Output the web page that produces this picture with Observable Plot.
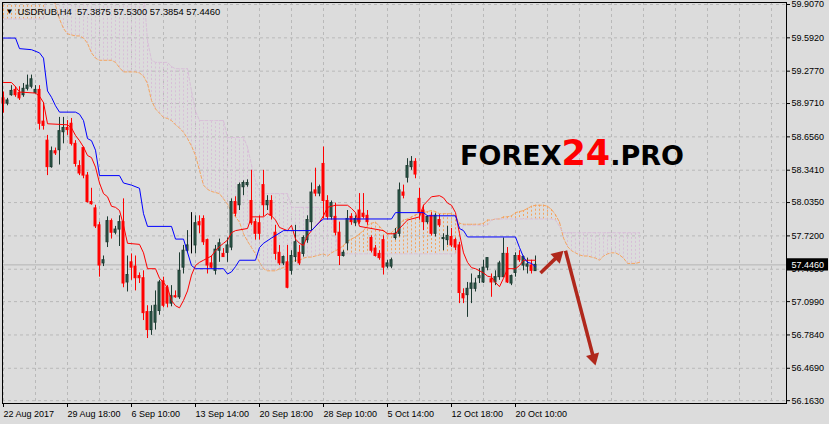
<!DOCTYPE html>
<html><head><meta charset="utf-8">
<script src="https://cdn.jsdelivr.net/npm/d3@7"></script>
<script src="https://cdn.jsdelivr.net/npm/@observablehq/plot@0.6"></script>
<style>
html,body{margin:0;padding:0;background:#dcdcdc;}
#chart{width:829px;height:424px;}
</style></head><body><div id="chart"></div>
<script>
// ---------- data ----------
const symbolName = "USDRUB,H4";
const xTickBars = [0,16,32,48,64,80,96,112,128];
const xTickLabels = ["22 Aug 2017","29 Aug 18:00","6 Sep 10:00","13 Sep 14:00","20 Sep 18:00","28 Sep 10:00","5 Oct 14:00","12 Oct 18:00","20 Oct 10:00"];
const yTicks = [59.907,59.592,59.277,58.971,58.656,58.341,58.035,57.720,57.405,57.099,56.784,56.469,56.163];

const candleOpen = [59.02,58.97,59.05,59.10,59.07,59.05,59.11,59.13,59.07,59.10,
58.80,58.62,58.37,58.52,58.53,58.70,58.74,58.78,58.59,58.38,
58.55,58.29,58.04,57.98,57.82,57.46,57.66,57.86,57.75,57.78,
57.85,57.28,57.47,57.43,57.34,57.32,57.00,56.83,56.90,57.01,
57.29,57.23,57.08,57.15,57.14,57.42,57.58,57.65,57.63,57.85,
57.88,57.68,57.46,57.39,57.58,57.55,57.56,57.61,58.04,58.01,
58.18,58.20,58.05,57.85,57.84,58.20,58.01,58.05,57.75,57.56,
57.46,57.47,57.39,57.52,57.56,57.55,57.68,57.85,58.15,58.12,
58.40,58.05,57.90,57.90,57.75,57.53,57.65,57.90,57.84,57.96,
57.93,57.91,57.70,57.60,57.55,57.68,57.43,57.43,57.70,57.74,
58.13,58.27,58.37,58.42,58.07,57.96,57.85,57.91,57.74,57.87,
57.69,57.68,57.71,57.68,57.63,57.17,57.16,57.22,57.22,57.32,
57.28,57.42,57.31,57.28,57.33,57.33,57.55,57.27,57.37,57.53,
57.44,57.43,57.44,57.3875];
const candleHigh = [59.08,59.02,59.14,59.13,59.13,59.16,59.24,59.24,59.14,59.14,
58.98,58.67,58.56,58.55,58.84,58.84,58.81,58.83,58.62,58.43,
58.56,58.32,58.17,58.01,57.85,57.53,57.90,57.88,57.81,57.91,
58.07,57.53,57.55,57.53,57.37,57.39,57.06,57.06,57.20,57.30,
57.33,57.25,57.25,57.20,57.56,57.63,57.77,57.94,57.91,57.91,
57.91,57.69,57.53,57.63,57.69,57.60,57.70,58.07,58.09,58.22,
58.24,58.25,58.34,57.88,57.91,58.34,58.10,58.10,57.82,57.63,
57.53,57.63,57.58,57.82,57.63,57.72,57.91,58.22,58.36,58.20,
58.56,58.10,58.05,58.03,57.85,57.58,57.96,57.93,57.91,58.12,
58.12,57.96,57.72,57.63,57.58,57.72,57.49,57.51,57.79,58.22,
58.20,58.45,58.47,58.45,58.17,58.01,57.91,57.94,57.93,57.92,
57.74,57.81,57.79,57.70,57.66,57.22,57.28,57.36,57.32,57.41,
57.49,57.51,57.36,57.39,57.48,57.70,57.61,57.35,57.56,57.58,
57.53,57.51,57.49,57.5300];
const candleLow = [58.88,58.95,59.04,59.03,59.00,59.03,59.09,59.11,59.06,58.72,
58.72,58.29,58.36,58.48,58.39,58.59,58.67,58.57,58.37,58.29,
58.26,58.03,58.01,57.79,57.33,57.43,57.61,57.69,57.73,57.62,
57.23,57.19,57.30,57.20,57.27,56.92,56.75,56.78,56.83,56.97,
57.04,57.04,57.05,57.13,57.12,57.36,57.56,57.55,57.55,57.74,
57.63,57.36,57.41,57.35,57.47,57.52,57.47,57.58,57.90,57.96,
58.10,58.18,57.82,57.68,57.68,57.90,57.96,57.87,57.49,57.44,
57.44,57.22,57.35,57.47,57.44,57.52,57.65,57.77,58.09,58.09,
57.88,57.87,57.87,57.72,57.44,57.52,57.58,57.82,57.81,57.83,
57.88,57.82,57.56,57.52,57.49,57.35,57.41,57.41,57.68,57.71,
58.07,58.22,58.34,58.26,57.87,57.77,57.83,57.72,57.71,57.80,
57.58,57.63,57.61,57.58,57.08,57.08,56.95,57.08,57.19,57.27,
57.27,57.39,57.14,57.25,57.30,57.33,57.27,57.25,57.33,57.47,
57.39,57.36,57.36,57.3854];
const candleClose = [58.97,59.00,59.09,59.05,59.02,59.11,59.14,59.20,59.10,58.78,
58.76,58.37,58.52,58.50,58.71,58.74,58.72,58.59,58.40,58.31,
58.29,58.04,58.02,57.81,57.44,57.49,57.86,57.75,57.78,57.85,
57.27,57.35,57.42,57.32,57.32,56.99,56.83,57.00,57.06,57.28,
57.06,57.08,57.15,57.14,57.39,57.58,57.63,57.65,57.84,57.82,
57.66,57.44,57.42,57.59,57.65,57.52,57.63,58.04,57.93,58.20,
58.22,58.22,57.84,57.74,57.74,58.01,58.05,57.91,57.55,57.46,
57.52,57.23,57.53,57.66,57.46,57.70,57.87,58.13,58.12,58.18,
58.05,57.90,58.03,57.75,57.53,57.56,57.88,57.85,57.88,57.85,
57.90,57.85,57.58,57.53,57.51,57.42,57.46,57.49,57.74,58.15,
58.10,58.38,58.42,58.30,57.94,57.85,57.90,57.74,57.91,57.82,
57.70,57.72,57.63,57.61,57.18,57.13,57.22,57.27,57.27,57.34,
57.42,57.51,57.28,57.33,57.46,57.55,57.28,57.34,57.53,57.49,
57.52,57.45,57.39,57.4460];

// Tenkan-sen (red) and Kijun-sen (blue): bar index / value
const tenkanBars = [0,2,3,4,8,9,10,11,16,17,18,19,20,21,22,23,24,25,26,27,28,29,30,31,34,35,36,38,39,40,41,42,43,44,45,46,47,48,49,50,51,52,53,54,55,56,57,58,61,62,65,66,67,68,69,71,72,73,74,75,76,77,78,79,80,81,83,86,87,88,89,95,96,98,99,100,101,104,105,106,107,109,110,111,112,113,114,115,116,117,118,119,120,121,122,123,124,125,126,128,129,130,133];
const tenkanVals = [59.17,59.17,59.13,59.08,59.07,59.04,58.98,58.78,
58.77,58.74,58.67,58.62,58.56,58.48,58.46,58.37,58.22,58.12,58.09,58.00,57.99,57.96,57.82,57.65,
57.64,57.56,57.41,57.41,
57.32,57.28,57.23,57.11,57.06,57.04,57.11,57.20,57.35,57.44,57.47,57.49,57.51,57.53,57.58,57.62,57.65,57.68,57.75,57.77,
57.79,57.90,
57.90,57.93,57.91,57.87,57.80,
57.77,57.82,57.69,57.65,57.63,57.72,57.77,57.81,57.85,57.91,57.99,
58.01,58.01,57.98,57.94,57.81,
57.77,57.74,57.74,57.79,57.83,57.87,
57.90,58.01,58.05,58.09,
58.10,58.08,58.03,58.01,57.94,57.74,57.56,57.47,57.42,57.41,57.39,57.37,57.34,57.33,57.28,57.24,57.32,57.41,
57.41,57.44,57.49,57.49];
const kijunBars = [0,3,4,7,9,10,11,12,13,14,18,19,20,21,22,23,24,29,30,32,34,35,36,42,43,45,47,48,55,56,57,58,59,63,64,65,67,70,77,79,80,97,98,105,106,113,114,115,116,128,129,130,131,132,133];
const kijunVals = [59.59,59.59,59.49,59.48,59.45,59.40,59.09,59.03,58.95,58.89,
58.89,58.87,58.81,58.64,58.62,58.53,58.29,
58.29,58.22,58.20,58.17,57.93,57.81,
57.81,57.69,57.69,57.44,57.41,
57.41,57.36,57.38,57.43,57.49,
57.49,57.61,57.65,57.70,57.77,
57.77,57.85,57.88,
57.88,57.94,57.94,57.91,57.91,57.79,57.77,57.71,
57.71,57.61,57.52,57.47,57.46,57.43];

// Senkou span A / B, one value per bar (bars 0..159, 26 bars ahead of the last candle)
const spanA = [60.05,60.05,60.05,60.05,60.05,60.05,60.05,60.05,60.05,60.05,
60.05,60.05,60.05,59.90,59.77,59.68,59.63,59.62,59.61,59.61,
59.59,59.54,59.45,59.40,59.38,59.38,59.38,59.38,59.36,59.31,
59.27,59.27,59.27,59.27,59.26,59.23,59.16,59.00,58.92,58.88,
58.84,58.83,58.81,58.77,58.74,58.70,58.64,58.57,58.48,58.34,
58.20,58.16,58.14,58.13,58.12,58.07,58.02,57.95,57.90,57.85,
57.74,57.67,57.61,57.55,57.47,57.41,57.39,57.39,57.39,57.41,
57.42,57.44,57.47,57.49,57.49,57.51,57.52,57.52,57.53,57.54,
57.55,57.53,57.56,57.58,57.60,57.63,57.67,57.69,57.71,57.74,
57.77,57.82,57.84,57.85,57.81,57.77,57.74,57.75,57.79,57.83,
57.87,57.88,57.90,57.92,57.93,57.94,57.95,57.96,57.95,57.93,
57.93,57.93,57.93,57.91,57.84,57.83,57.83,57.83,57.83,57.83,
57.84,57.87,57.87,57.88,57.88,57.90,57.90,57.91,57.94,57.95,
57.96,57.98,58.00,58.01,58.01,58.01,58.00,57.97,57.92,57.85,
57.70,57.62,57.58,57.56,57.54,57.53,57.53,57.52,57.51,57.49,
57.53,57.55,57.56,57.56,57.54,57.51,57.46,57.46,57.46,57.47];
const spanB = [59.77,59.77,59.77,59.77,59.77,59.77,59.77,59.77,59.77,59.77,
59.77,60.05,60.05,60.05,60.05,60.05,60.05,60.05,60.05,60.05,
60.05,60.05,60.05,60.05,60.05,60.05,60.05,60.05,60.05,60.05,
60.05,60.05,60.05,60.05,60.05,60.05,59.57,59.38,59.36,59.36,
59.36,59.36,59.32,59.30,59.30,59.30,59.30,59.09,58.90,58.81,
58.81,58.81,58.81,58.81,58.81,58.81,58.65,58.65,58.65,58.65,
58.65,58.56,58.39,58.24,58.15,58.12,58.12,58.12,58.12,58.12,
58.12,58.12,57.99,57.99,57.99,57.99,57.99,57.99,57.99,57.99,
57.99,57.99,57.91,57.72,57.55,57.55,57.55,57.55,57.55,57.55,
57.55,57.55,57.55,57.55,57.55,57.55,57.55,57.55,57.55,57.55,
57.55,57.55,57.55,57.55,57.55,57.55,57.55,57.55,57.55,57.55,
57.55,57.55,57.55,57.55,57.69,57.82,57.82,57.82,57.82,57.82,
57.82,57.82,57.87,57.88,57.88,57.88,57.88,57.88,57.88,57.88,
57.88,57.88,57.88,57.88,57.88,57.88,57.88,57.88,57.87,57.81,
57.75,57.75,57.75,57.75,57.75,57.75,57.75,57.75,57.75,57.75,
57.75,57.75,57.75,57.75,57.75,57.75,57.75,57.75,57.75,57.75];

// forecast arrows drawn on the chart (bar index, price)
const arrowFromBar = [134.25, 140.5];
const arrowFromPrice = [57.37, 57.58];
const arrowToBar = [140.0, 148.0];
const arrowToPrice = [57.58, 56.495];

// ---------- build ----------
const W = 829, H = 424;
const mL = 2, mR = 43, mT = 2, mB = 21;
const xDomain = [-0.25, 195.75];
const yDomain = [56.136, 59.926];
const fmt4 = d3.format(".4f");
const BULL_FILL = "#2f5e4f", BULL_LINE = "#1d3a31", BEAR = "#ff0000";
const ARROW = "#b0281c";
const FONT = "'Liberation Sans', Arial, sans-serif";

const candles = candleOpen.map((o, i) => ({
  i, open: o, high: candleHigh[i], low: candleLow[i], close: candleClose[i]
}));
const candleColor = d => d.close > d.open ? BULL_LINE : d.close < d.open ? BEAR : "#000000";
const bodyFill = d => d.close > d.open ? BULL_FILL : d.close < d.open ? BEAR : "#000000";
const cloud = spanA.map((a, i) => ({i, a, b: spanB[i]}));
const tenkan = tenkanBars.map((b, k) => ({i: b, v: tenkanVals[k]}));
const kijun = kijunBars.map((b, k) => ({i: b, v: kijunVals[k]}));
const last = candles[candles.length - 1];

// arrow heads: computed through standalone copies of the chart's scales
const xs = Plot.scale({x: {domain: xDomain, range: [mL, W - mR]}});
const ys = Plot.scale({y: {domain: yDomain, range: [H - mB, mT]}});
const headR = 5;
const tipDist = 2 * Math.sqrt(headR * headR * Math.PI / (3 * Math.sqrt(3)));
const arrows = arrowFromBar.map((xb, k) => {
  const px1 = xs.apply(xb), py1 = ys.apply(arrowFromPrice[k]);
  const px2 = xs.apply(arrowToBar[k]), py2 = ys.apply(arrowToPrice[k]);
  const dx = px2 - px1, dy = py2 - py1, len = Math.hypot(dx, dy);
  const cx = px2 - dx / len * tipDist, cy = py2 - dy / len * tipDist;
  return {
    x1: xb, y1: arrowFromPrice[k],
    cx: xs.invert(cx), cy: ys.invert(cy),
    rot: Math.atan2(dx, -dy) * 180 / Math.PI
  };
});

const titleText = `${symbolName} \u00a0${fmt4(last.open)} ${fmt4(last.high)} ${fmt4(last.low)} ${fmt4(last.close)}`;
const gridStyle = {stroke: "#b9b9b9", strokeOpacity: 1, strokeDasharray: "3,3"};
const tagHalf = 0.058; // half height of the price tag, in price units

const plot = Plot.plot({
  width: W, height: H,
  marginLeft: mL, marginRight: mR, marginTop: mT, marginBottom: mB,
  x: {domain: xDomain},
  y: {domain: yDomain},
  color: {type: "identity"},
  style: {background: "#dcdcdc", fontFamily: FONT, fontSize: "9px", color: "black", overflow: "visible"},
  marks: [
    Plot.gridY(yTicks, gridStyle),
    Plot.gridX(d3.range(0, 196, 8), gridStyle),
    // kumo hatch
    Plot.ruleX(cloud, {x: "i", y1: "a", y2: "b", stroke: d => d.a >= d.b ? "#f4a460" : "#d8bfd8", strokeDasharray: "2,2", strokeWidth: 1, clip: true}),
    Plot.line(cloud, {x: "i", y: "a", stroke: "#f4a460", strokeDasharray: "3,2", strokeWidth: 1, clip: true}),
    Plot.line(cloud, {x: "i", y: "b", stroke: "#d8bfd8", strokeDasharray: "3,2", strokeWidth: 1, clip: true}),
    // bid line
    Plot.ruleY([last.close], {stroke: "#b4b4b4", strokeWidth: 1}),
    // candles
    Plot.ruleX(candles, {x: "i", y1: "low", y2: "high", stroke: candleColor, strokeWidth: 1}),
    Plot.rect(candles, {x1: d => d.i - 0.5, x2: d => d.i + 0.5, y1: "open", y2: "close", insetLeft: 1, insetRight: 1, fill: bodyFill, stroke: candleColor, strokeWidth: 1}),
    // ichimoku lines
    Plot.line(tenkan, {x: "i", y: "v", stroke: "#ff0000", strokeWidth: 1}),
    Plot.line(kijun, {x: "i", y: "v", stroke: "#0000ff", strokeWidth: 1}),
    // arrows
    Plot.link(arrows, {x1: "x1", y1: "y1", x2: "cx", y2: "cy", stroke: ARROW, strokeWidth: 3.5}),
    Plot.dot(arrows, {x: "cx", y: "cy", symbol: "triangle", r: headR, rotate: "rot", fill: ARROW, stroke: "none"}),
    // axes and frame
    Plot.axisY(yTicks, {anchor: "right", tickFormat: fmt4, tickSize: 3, tickPadding: 2, label: null, fontSize: 9}),
    Plot.axisX(xTickBars, {anchor: "bottom", tickFormat: d => xTickLabels[xTickBars.indexOf(d)], textAnchor: "start", tickSize: 4, tickPadding: 3, label: null, fontSize: 9}),
    Plot.frame({stroke: "black", strokeWidth: 1}),
    // current price tag on the right axis
    Plot.rect([last], {x1: () => xDomain[1] + 0.25, x2: () => xDomain[1] + 10.5, y1: d => d.close - tagHalf, y2: d => d.close + tagHalf, fill: "black"}),
    Plot.text([last], {x: () => xDomain[1], y: "close", text: d => fmt4(d.close), dx: 5, textAnchor: "start", fill: "white", fontSize: 9}),
    // title
    Plot.text(["\u25BC"], {text: d => d, frameAnchor: "top-left", dx: 7, dy: 9, lineAnchor: "middle", textAnchor: "middle", fontSize: 8, fill: "black"}),
    Plot.text([titleText], {text: d => d, frameAnchor: "top-left", dx: 15, dy: 9, lineAnchor: "middle", textAnchor: "start", fontSize: 9.4, fill: "black"})
  ]
});

// watermark
const wm = d3.select(plot).append("text").attr("x", 460).attr("y", 165)
  .attr("text-anchor", "start")
  .attr("font-family", "'DejaVu Sans', sans-serif").attr("font-weight", "bold");
wm.append("tspan").attr("font-size", 27).attr("fill", "#000").text("FOREX");
wm.append("tspan").attr("font-size", 35).attr("fill", "#ff0000").text("24");
wm.append("tspan").attr("font-size", 27).attr("fill", "#000").text(".PRO");

document.getElementById("chart").appendChild(plot);
</script>
</body></html>
